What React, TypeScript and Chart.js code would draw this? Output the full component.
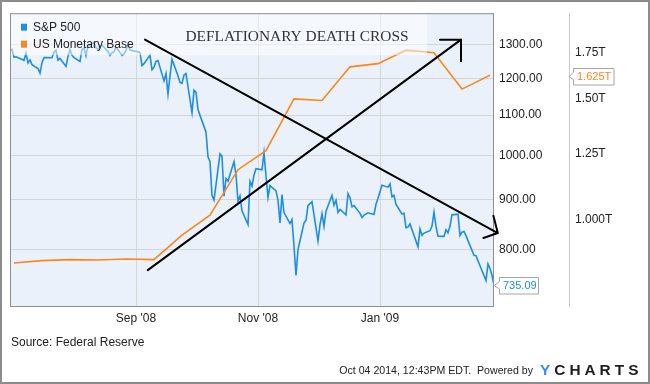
import { useEffect, useRef } from "react";
import { Chart, registerables } from "chart.js";

Chart.register(...registerables);

// ---------- data ----------
const spMonths = ["2008-06", "2008-07", "2008-08", "2008-09", "2008-10", "2008-11", "2008-12", "2009-01", "2009-02"];
const spTradingDays = [
  [30],
  [1, 2, 3, 7, 8, 9, 10, 11, 14, 15, 16, 17, 18, 21, 22, 23, 24, 25, 28, 29, 30, 31],
  [1, 4, 5, 6, 7, 8, 11, 12, 13, 14, 15, 18, 19, 20, 21, 22, 25, 26, 27, 28, 29],
  [2, 3, 4, 5, 8, 9, 10, 11, 12, 15, 16, 17, 18, 19, 22, 23, 24, 25, 26, 29, 30],
  [1, 2, 3, 6, 7, 8, 9, 10, 13, 14, 15, 16, 17, 20, 21, 22, 23, 24, 27, 28, 29, 30, 31],
  [3, 4, 5, 6, 7, 10, 11, 12, 13, 14, 17, 18, 19, 20, 21, 24, 25, 26, 28],
  [1, 2, 3, 4, 5, 8, 9, 10, 11, 12, 15, 16, 17, 18, 19, 22, 23, 24, 26, 29, 30, 31],
  [2, 5, 6, 7, 8, 9, 12, 13, 14, 15, 16, 20, 21, 22, 23, 26, 27, 28, 29, 30],
  [2, 3, 4, 5, 6, 9, 10, 11, 12, 13, 17, 18, 19, 20, 23, 24, 25, 26, 27],
];
const spCloses = [
  [1280.0],
  [1284.91, 1261.52, 1262.9, 1252.31, 1273.7, 1244.69, 1253.39, 1239.49, 1228.3, 1214.91, 1245.36, 1260.32, 1260.68, 1260.0, 1277.0, 1282.19, 1252.54, 1257.76, 1234.37, 1263.2, 1284.26, 1267.38],
  [1260.31, 1249.01, 1284.88, 1289.19, 1266.07, 1296.32, 1305.32, 1289.59, 1285.83, 1292.93, 1298.2, 1278.6, 1266.69, 1274.54, 1277.72, 1292.2, 1266.84, 1271.51, 1281.66, 1300.68, 1282.83],
  [1277.58, 1274.98, 1236.83, 1242.31, 1267.79, 1224.51, 1232.04, 1249.05, 1251.7, 1192.7, 1213.6, 1156.39, 1206.51, 1255.08, 1207.09, 1188.22, 1185.87, 1209.18, 1213.27, 1106.39, 1166.36],
  [1161.06, 1114.28, 1099.23, 1056.89, 996.23, 984.94, 909.92, 899.22, 1003.35, 998.01, 907.84, 946.43, 940.55, 985.4, 955.05, 896.78, 908.11, 876.77, 848.92, 940.51, 930.09, 954.09, 968.75],
  [966.3, 1005.75, 952.77, 904.88, 930.99, 919.21, 898.95, 852.3, 911.29, 873.29, 850.75, 859.12, 806.58, 752.44, 800.03, 851.81, 857.39, 887.68, 896.24],
  [816.21, 848.81, 870.74, 845.22, 876.07, 909.7, 888.67, 899.24, 873.59, 879.73, 868.57, 913.18, 904.42, 885.28, 887.88, 871.63, 863.16, 868.15, 872.8, 869.42, 890.64, 903.25],
  [931.8, 927.45, 934.7, 906.65, 909.73, 890.35, 870.26, 871.79, 842.62, 843.74, 850.12, 805.22, 840.24, 827.5, 831.95, 836.57, 845.71, 874.09, 845.14, 825.88],
  [825.44, 838.51, 832.23, 845.85, 868.6, 869.89, 827.16, 833.74, 835.19, 826.84, 789.17, 788.42, 778.94, 770.05, 743.33, 773.14, 764.9, 752.83, 735.09],
];

const mbDates = [
  "2008-07-02", "2008-07-16", "2008-07-30", "2008-08-13", "2008-08-27", "2008-09-10",
  "2008-09-24", "2008-10-08", "2008-10-22", "2008-11-05", "2008-11-19", "2008-12-03",
  "2008-12-17", "2008-12-31", "2009-01-14", "2009-01-28", "2009-02-11", "2009-02-25",
];
const mbValues = [
  0.866, 0.873, 0.876, 0.875, 0.878, 0.876,
  0.951, 1.017, 1.184, 1.262, 1.501, 1.493,
  1.671, 1.689, 1.767, 1.752, 1.551, 1.625,
];

const xTickDates = ["2008-09-01", "2008-11-01", "2009-01-01"];
const xTickLabels = ["Sep '08", "Nov '08", "Jan '09"];
const spTickValues = [800, 900, 1000, 1100, 1200, 1300];
const spRange = [700, 1400];
const mbTickValues = [1.0, 1.25, 1.5, 1.75];
const mbTickLabels = ["1.000T", "1.25T", "1.50T", "1.75T"];
const mbRange = [0.75, 2.0];

const seriesNames = ["S&P 500", "US Monetary Base"];
const titleText = "DEFLATIONARY DEATH CROSS";
const sourceText = "Source: Federal Reserve";
const stampText = "Oct 04 2014, 12:43PM EDT.  Powered by";
const brandText = "YCHARTS";

// hand-drawn "cross" arrows, in data coordinates (day offset from 2008-07-01, S&P value)
const crossFromDays = [66.5, 67.9];
const crossFromValues = [1315, 762];
const crossToDays = [242.9, 224.5];
const crossToValues = [832, 1315];

// ---------- helpers ----------
const EPOCH = Date.UTC(2008, 6, 1);
function dayOf(s: string): number {
  const [y, m, d] = s.split("-").map(Number);
  return (Date.UTC(y, m - 1, d) - EPOCH) / 86400000;
}

const spPoints: { x: number; y: number }[] = [];
spMonths.forEach((mo, i) => {
  spTradingDays[i].forEach((d, j) => {
    spPoints.push({ x: dayOf(`${mo}-${String(d).padStart(2, "0")}`), y: spCloses[i][j] });
  });
});
const mbPoints = mbDates.map((d, i) => ({ x: dayOf(d), y: mbValues[i] }));

const BLUE = "#1d8de8";
const ORANGE = "#fd8618";
const SANS = '"Liberation Sans", Arial, sans-serif';
const SERIF = '"Liberation Serif", "Times New Roman", serif';

const arrowHeads = [
  [[-4.4, -17.3], [-14.4, 5]],
  [[-21, 0], [0, 21.6]],
];

function tag(ctx: CanvasRenderingContext2D, tipX: number, cy: number, boxL: number, w: number, text: string, color: string) {
  const h = 16.5;
  const top = Math.round(cy - h / 2) + 0.5;
  const bot = top + h;
  ctx.beginPath();
  ctx.moveTo(tipX, cy);
  ctx.lineTo(boxL, cy - 4);
  ctx.lineTo(boxL, top);
  ctx.lineTo(boxL + w, top);
  ctx.lineTo(boxL + w, bot);
  ctx.lineTo(boxL, bot);
  ctx.lineTo(boxL, cy + 4);
  ctx.closePath();
  ctx.fillStyle = "#ffffff";
  ctx.fill();
  ctx.strokeStyle = "#a6a6a6";
  ctx.lineWidth = 1;
  ctx.stroke();
  ctx.fillStyle = color;
  ctx.font = `11px ${SANS}`;
  ctx.textAlign = "left";
  ctx.textBaseline = "middle";
  ctx.fillText(text, boxL + 3.5, cy + 0.5);
}

const decor = {
  id: "decor",
  beforeDraw(chart: any) {
    const { ctx, chartArea: a } = chart;
    ctx.save();
    ctx.fillStyle = "#ffffff";
    ctx.fillRect(0, 0, chart.width, chart.height);
    ctx.fillStyle = "#eaf1fb";
    ctx.fillRect(a.left, a.top, a.right - a.left, a.bottom - a.top);
    ctx.restore();
  },
  afterDatasetsDraw(chart: any) {
    const { ctx, chartArea: a, scales } = chart;
    const xs = scales.x, ys = scales.y, y2 = scales.y2;
    ctx.save();
    // translucent header band
    ctx.fillStyle = "rgba(255,255,255,0.5)";
    ctx.fillRect(a.left, a.top, 417, 42);
    // plot border
    ctx.strokeStyle = "#8e8e8e";
    ctx.lineWidth = 1;
    ctx.strokeRect(a.left + 0.5, a.top + 0.5, a.right - a.left - 1, a.bottom - a.top);

    // title
    ctx.fillStyle = "#333333";
    ctx.font = `15.4px ${SERIF}`;
    ctx.textAlign = "center";
    ctx.textBaseline = "middle";
    ctx.fillText(titleText, a.left + 287, a.top + 23.5);

    // legend
    const colors = [BLUE, ORANGE];
    ctx.font = `12px ${SANS}`;
    ctx.textAlign = "left";
    seriesNames.forEach((name, i) => {
      const cy = a.top + 14 + i * 17;
      ctx.fillStyle = colors[i];
      ctx.fillRect(a.left + 11, cy - 3.5, 6, 7);
      ctx.fillStyle = "#222222";
      ctx.fillText(name, a.left + 23, cy + 0.5);
    });

    // arrows
    ctx.strokeStyle = "#000000";
    ctx.lineWidth = 2;
    ctx.lineCap = "round";
    crossFromDays.forEach((_, i) => {
      const x0 = xs.getPixelForValue(crossFromDays[i]);
      const y0 = ys.getPixelForValue(crossFromValues[i]);
      const x1 = xs.getPixelForValue(crossToDays[i]);
      const y1 = ys.getPixelForValue(crossToValues[i]);
      ctx.beginPath();
      ctx.moveTo(x0, y0);
      ctx.lineTo(x1, y1);
      arrowHeads[i].forEach(([dx, dy]) => {
        ctx.moveTo(x1, y1);
        ctx.lineTo(x1 + dx, y1 + dy);
      });
      ctx.stroke();
    });

    // last value tags
    const lastSp = spPoints[spPoints.length - 1];
    tag(ctx, a.right + 0.5, ys.getPixelForValue(lastSp.y), a.right + 5.5, 39, lastSp.y.toFixed(2), BLUE);
    const lastMb = mbPoints[mbPoints.length - 1];
    tag(ctx, y2.left + 0.5, y2.getPixelForValue(lastMb.y) + 1, y2.left + 4.5, 40.5, lastMb.y.toFixed(3) + "T", ORANGE);
    ctx.restore();
  },
  afterDraw(chart: any) {
    const { ctx } = chart;
    ctx.save();
    ctx.fillStyle = "#222222";
    ctx.textBaseline = "middle";
    ctx.textAlign = "left";
    ctx.font = `12px ${SANS}`;
    ctx.fillText(sourceText, 11, 343);
    ctx.font = `10.6px ${SANS}`;
    ctx.textAlign = "right";
    ctx.fillText(stampText, 533, 371);
    // brand
    ctx.textAlign = "left";
    ctx.font = `bold 15.4px ${SANS}`;
    let bx = 540;
    for (let i = 0; i < brandText.length; i++) {
      const ch = brandText[i];
      ctx.fillStyle = i === 0 ? "#3a8ee8" : "#1e1e1e";
      ctx.fillText(ch, bx, 371);
      bx += ctx.measureText(ch).width + 4.0;
    }
    // outer frame
    ctx.strokeStyle = "#8c8c8c";
    ctx.lineWidth = 2;
    ctx.strokeRect(1, 1, chart.width - 2, chart.height - 2);
    ctx.restore();
  },
};

export default function App() {
  const ref = useRef<HTMLCanvasElement>(null);
  useEffect(() => {
    if (!ref.current) return;
    const chart = new Chart(ref.current, {
      type: "line",
      data: {
        datasets: [
          {
            label: seriesNames[1],
            data: mbPoints,
            yAxisID: "y2",
            borderColor: ORANGE,
            borderWidth: 1.6,
            pointRadius: 0,
            tension: 0,
            order: 1,
          },
          {
            label: seriesNames[0],
            data: spPoints,
            yAxisID: "y",
            borderColor: BLUE,
            borderWidth: 1.6,
            pointRadius: 0,
            tension: 0,
            order: 2,
          },
        ],
      },
      options: {
        animation: false,
        responsive: false,
        devicePixelRatio: 1,
        events: [],
        layout: { padding: { left: 10, top: 10, right: 2, bottom: 58 } },
        plugins: { legend: { display: false }, tooltip: { enabled: false } },
        scales: {
          x: {
            type: "linear",
            position: "bottom",
            min: spPoints[0].x,
            max: spPoints[spPoints.length - 1].x,
            afterBuildTicks: (s: any) => {
              s.ticks = xTickDates.map((d) => ({ value: dayOf(d) }));
            },
            afterFit: (s: any) => {
              s.height = 20;
            },
            grid: { color: "#d6d6d6", drawTicks: false, lineWidth: 1 },
            border: { display: false },
            ticks: {
              autoSkip: false,
              maxRotation: 0,
              padding: 5,
              color: "#222222",
              font: { family: SANS, size: 12 },
              callback: (_v: any, i: number) => xTickLabels[i],
            },
          },
          y: {
            type: "logarithmic",
            position: "right",
            min: spRange[0],
            max: spRange[1],
            afterBuildTicks: (s: any) => {
              s.ticks = spTickValues.map((v) => ({ value: v }));
            },
            afterFit: (s: any) => {
              s.width = 75;
            },
            grid: { color: "#d6d6d6", drawTicks: false },
            border: { display: false },
            ticks: {
              padding: 5,
              color: "#222222",
              font: { family: SANS, size: 12 },
              callback: (v: any) => Number(v).toFixed(2),
            },
          },
          y2: {
            type: "logarithmic",
            position: "right",
            min: mbRange[0],
            max: mbRange[1],
            afterBuildTicks: (s: any) => {
              s.ticks = mbTickValues.map((v) => ({ value: v }));
            },
            afterFit: (s: any) => {
              s.width = 79;
            },
            grid: { display: false, drawTicks: false },
            border: { display: true, color: "#c6c6c6", width: 1 },
            ticks: {
              padding: 6,
              color: "#222222",
              font: { family: SANS, size: 12 },
              callback: (_v: any, i: number) => mbTickLabels[i],
            },
          },
        },
      },
      plugins: [decor],
    } as any);
    return () => chart.destroy();
  }, []);
  return (
    <div style={{ position: "fixed", left: 0, top: 0, width: 650, height: 384 }}>
      <canvas ref={ref} width={650} height={384} style={{ display: "block" }} />
    </div>
  );
}
